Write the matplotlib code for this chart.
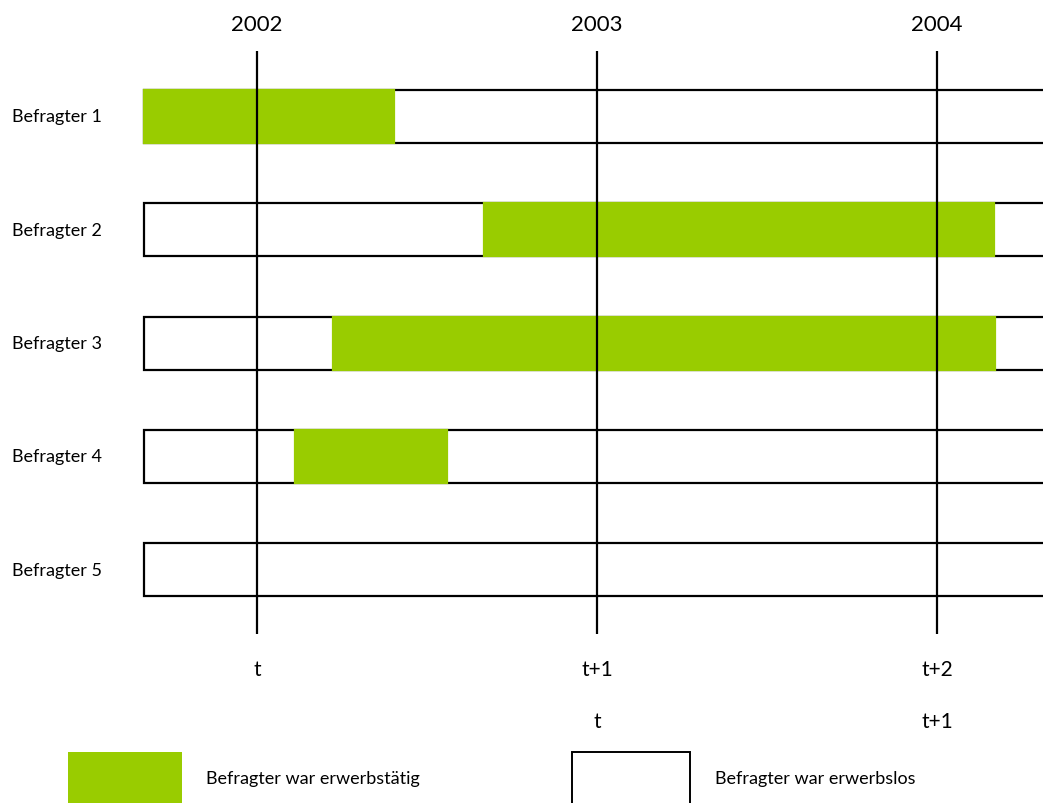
import matplotlib
matplotlib.use("Agg")
import matplotlib.pyplot as plt
from matplotlib.patches import Rectangle
import matplotlib.transforms as mtransforms

plt.rcParams['font.family'] = ['Lato', 'DejaVu Sans']

GREEN = '#99cc00'

respondents = ["Befragter 1", "Befragter 2", "Befragter 3", "Befragter 4", "Befragter 5"]
# employment spells (start, end) in fractional years, None = never employed
spell_start = [2001.668, 2002.668, 2002.224, 2002.112, None]
spell_end = [2002.403, 2004.168, 2004.171, 2002.559, None]
obs_start = 2001.668
years = [2002, 2003, 2004]
wave_labels_1 = ["t", "t+1", "t+2"]
wave_labels_2 = ["", "t", "t+1"]
legend_labels = ["Befragter war erwerbstätig", "Befragter war erwerbslos"]

fig = plt.figure(figsize=(10.43, 8.04), dpi=100)
ax = fig.add_axes([0, 0, 1, 1])
ax.set_xlim(2001.244, 2004.312)
ax.set_ylim(7.053, -0.031)
ax.axis('off')

rows = list(range(1, len(respondents) + 1))
h = 0.467

# white observation bars (open to the right)
ax.barh(rows, 3.0, left=obs_start, height=h, color='white',
        edgecolor='black', linewidth=1.6, zorder=1)

# employment spells
for r, s, e in zip(rows, spell_start, spell_end):
    if s is None:
        continue
    ax.barh(r, e - s, left=s, height=h, color=GREEN, edgecolor=GREEN,
            linewidth=1.6, zorder=2)

# year lines
for y in years:
    ax.plot([y, y], [0.427, 5.564], color='black', lw=1.6, zorder=3,
            solid_capstyle='butt')

# row labels
trans = mtransforms.blended_transform_factory(fig.transFigure, ax.transData)
for r, name in zip(rows, respondents):
    ax.text(12 / 1043, r, name, transform=trans, ha='left', va='center',
            fontsize=13)

# year labels on top, wave labels below
ytop = 1 - 117 / 113.5 + 25 / 113.5
for y in years:
    ax.text(y, ytop, str(y), ha='center', va='center', fontsize=16)
yw1 = 1 + (670 - 117) / 113.5
yw2 = 1 + (722 - 117) / 113.5
for y, l1, l2 in zip(years, wave_labels_1, wave_labels_2):
    ax.text(y, yw1, l1, ha='center', va='center', fontsize=15)
    if l2:
        ax.text(y, yw2, l2, ha='center', va='center', fontsize=15)

# legend
W, H = 1043, 804
fig.patches.append(Rectangle((68 / W, -0.01), 114 / W, (804 - 753) / H + 0.01,
                             transform=fig.transFigure, facecolor=GREEN,
                             edgecolor='none'))
fig.patches.append(Rectangle((572 / W, -0.01), 118 / W, (804 - 753) / H + 0.01,
                             transform=fig.transFigure, facecolor='white',
                             edgecolor='black', linewidth=1.4))
fig.text(206 / W, 1 - 779 / H, legend_labels[0], ha='left', va='center', fontsize=13)
fig.text(715 / W, 1 - 779 / H, legend_labels[1], ha='left', va='center', fontsize=13)

fig.savefig("out.png", dpi=100)
